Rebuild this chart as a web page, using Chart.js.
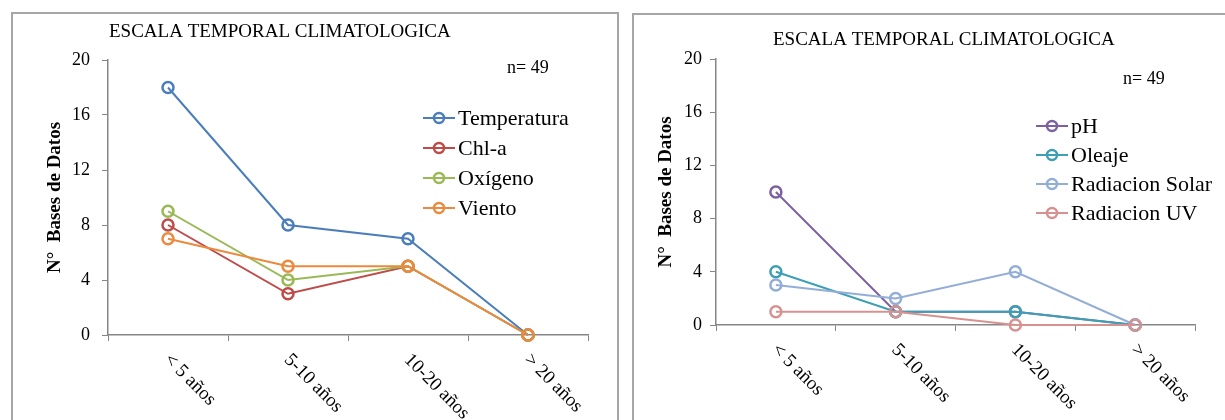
<!DOCTYPE html>
<html>
<head>
<meta charset="utf-8">
<script src="https://cdn.jsdelivr.net/npm/chart.js@4"></script>
<style>
body { margin: 0; background: #fff; width: 1225px; height: 420px; overflow: hidden; position: relative; }
.box { position: absolute; border: 2px solid #a6a6a6; box-sizing: border-box; }
canvas { position: absolute; }
</style>
</head>
<body>
<div class="box" style="left:11px;top:12px;width:608px;height:440px"></div>
<div class="box" style="left:632px;top:13px;width:610px;height:440px"></div>
<canvas id="chartLeft" width="608" height="408" style="left:11px;top:12px"></canvas>
<canvas id="chartRight" width="593" height="407" style="left:632px;top:13px"></canvas>
<script>
const categories = ['< 5 años', '5-10 años', '10-20 años', '> 20 años'];
const yTicks = [0, 4, 8, 12, 16, 20];
const chartTitle = 'ESCALA TEMPORAL CLIMATOLOGICA';
const yTitle = 'N°  Bases de Datos';
const nLabel = 'n= 49';

// left chart
const temperatura = [18, 8, 7, 0];
const chla = [8, 3, 5, 0];
const oxigeno = [9, 4, 5, 0];
const viento = [7, 5, 5, 0];

// right chart
const ph = [10, 1, 1, 0];
const oleaje = [4, 1, 1, 0];
const radSolar = [3, 2, 4, 0];
const radUV = [1, 1, 0, 0];

const serif = "'Liberation Serif', 'Times New Roman', serif";
const axisColor = '#868686';

function series(label, data, color, i) {
    return {
        label: label,
        data: data,
        borderColor: color,
        backgroundColor: 'transparent',
        pointBackgroundColor: 'transparent',
        borderWidth: 2,
        pointRadius: 5.5,
        pointHoverRadius: 5.5,
        pointBorderWidth: 2.5,
        tension: 0,
        clip: false,
        order: 10 - i   // later series on top, like the original
    };
}

// title, n label, rotated x labels and legend
const extras = {
    id: 'extras',
    afterDraw(chart, args, o) {
        const ctx = chart.ctx;
        const xs = chart.scales.x;
        ctx.save();
        ctx.fillStyle = '#000';
        ctx.textAlign = 'left';
        ctx.textBaseline = 'middle';

        ctx.font = '19px ' + serif;
        ctx.fillText(chartTitle, o.titleX, o.titleY);

        ctx.font = '18px ' + serif;
        ctx.fillText(nLabel, o.nX, o.nY);

        ctx.font = '19px ' + serif;
        categories.forEach((c, i) => {
            const px = xs.getPixelForValue(i);
            ctx.save();
            ctx.translate(px - 1, xs.top + 22);
            ctx.rotate(Math.PI / 4);
            ctx.fillText(c, 0, 0);
            ctx.restore();
        });

        ctx.font = '22px ' + serif;
        chart.data.datasets.forEach((ds, i) => {
            const y = o.legendY + i * o.legendGap;
            ctx.strokeStyle = ds.borderColor;
            ctx.lineWidth = 2;
            ctx.beginPath();
            ctx.moveTo(o.legendX, y);
            ctx.lineTo(o.legendX + 32, y);
            ctx.stroke();
            ctx.lineWidth = 2.5;
            ctx.beginPath();
            ctx.arc(o.legendX + 16, y, 5, 0, Math.PI * 2);
            ctx.stroke();
            ctx.fillStyle = '#000';
            ctx.fillText(ds.label, o.legendX + 35, y + 1);
        });
        ctx.restore();
    }
};

function makeChart(id, datasets, box) {
    return new Chart(document.getElementById(id), {
        type: 'line',
        data: { labels: categories, datasets: datasets },
        plugins: [extras],
        options: {
            responsive: false,
            animation: false,
            events: [],
            layout: { padding: { left: 0, top: box.top, right: box.right, bottom: 0 } },
            plugins: {
                legend: { display: false },
                tooltip: { enabled: false },
                extras: box.extras
            },
            scales: {
                x: {
                    type: 'category',
                    offset: true,
                    grid: { offset: true, drawOnChartArea: false, drawTicks: true, tickLength: 6, color: axisColor },
                    border: { color: axisColor, width: 1.5 },
                    ticks: { display: false },
                    afterFit: s => { s.height = box.xHeight; }
                },
                y: {
                    min: 0,
                    max: 20,
                    afterBuildTicks: s => { s.ticks = yTicks.map(v => ({ value: v })); },
                    grid: { drawOnChartArea: false, tickLength: 6, color: axisColor },
                    border: { color: axisColor, width: 1.5 },
                    ticks: { font: { family: serif, size: 18 }, color: '#000', padding: box.tickPad },
                    title: {
                        display: true,
                        text: yTitle,
                        color: '#000',
                        font: { family: serif, size: 19, weight: 'bold' },
                        padding: { top: box.titlePad, bottom: 0 }
                    },
                    afterFit: s => { s.width = box.yWidth; }
                }
            }
        }
    });
}

makeChart('chartLeft', [
    series('Temperatura', temperatura, '#4a7ebb', 0),
    series('Chl-a', chla, '#be4b48', 1),
    series('Oxígeno', oxigeno, '#98b954', 2),
    series('Viento', viento, '#eb8a3e', 3)
], {
    top: 48, right: 31, xHeight: 85, yWidth: 97, tickPad: 12, titlePad: 33,
    extras: { titleX: 98, titleY: 20, nX: 496, nY: 56, legendX: 412, legendY: 106, legendGap: 30 }
});

makeChart('chartRight', [
    series('pH', ph, '#7d60a0', 0),
    series('Oleaje', oleaje, '#3e9fb4', 1),
    series('Radiacion Solar', radSolar, '#93aed6', 2),
    series('Radiacion UV', radUV, '#d69290', 3)
], {
    top: 46, right: 30, xHeight: 95, yWidth: 84, tickPad: 8, titlePad: 23,
    extras: { titleX: 141, titleY: 27, nX: 491, nY: 66, legendX: 404, legendY: 113, legendGap: 29 }
});
</script>
</body>
</html>
